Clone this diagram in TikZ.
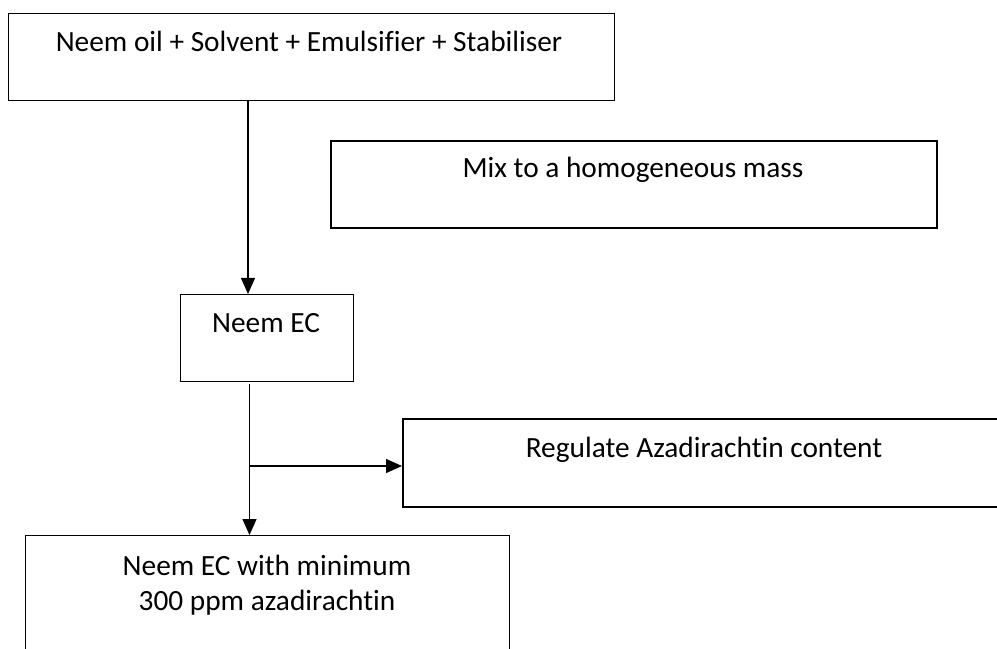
\documentclass[tikz,border=0pt]{standalone}
\usepackage{fontspec}
\setmainfont[Ligatures={NoCommon}]{Carlito}
\usetikzlibrary{arrows.meta}
\begin{document}
\begin{tikzpicture}[x=0.75pt,y=-0.75pt,
  box/.style={draw, line width=1pt, inner sep=0pt, anchor=north west},
  thickbox/.style={box, line width=1.5pt},
  txt/.style={font=\fontsize{22}{28}\selectfont, inner sep=0pt, anchor=base},
  arr/.style={line width=1pt, -{Triangle[length=12pt,width=10.5pt]}}]
\useasboundingbox (0,0) rectangle (997,649);
\clip (0,0) rectangle (997,649);
% boxes
\node[box, minimum width=454.5pt, minimum height=65.25pt] (top) at (8,13) {};
\node[thickbox, minimum width=454.5pt, minimum height=65.25pt] (mix) at (330,140) {};
\node[box, minimum width=129.75pt, minimum height=65.25pt] (ec) at (180,294) {};
\node[thickbox, minimum width=456pt, minimum height=66pt] (reg) at (402,418) {};
\node[box, minimum width=363pt, minimum height=110pt] (fin) at (25,535) {};
% texts
\node[txt] (ttop) at (309,52) {Neem oil + Solvent + Emulsifier + Stabiliser};
\node[txt] (tmix) at (633,178) {Mix to a homogeneous mass};
\node[txt] (tec) at (266,333) {Neem EC};
\node[txt] (treg) at (704,457) {Regulate Azadirachtin content};
\node[txt] (tfin1) at (267,575) {Neem EC with minimum};
\node[txt] (tfin2) at (267,610) {300 ppm azadirachtin};
% connectors
\coordinate (s1) at (248,100);
\coordinate (e1) at (248,294);
\draw[arr] (top.south -| s1) -- (ec.north -| e1);
\coordinate (s2) at (249.5,384);
\coordinate (br) at (249.5,466);
\draw[arr] (s2) -- (fin.north -| s2);
\draw[arr] (br) -- (reg.west |- br);
\end{tikzpicture}
\end{document}
